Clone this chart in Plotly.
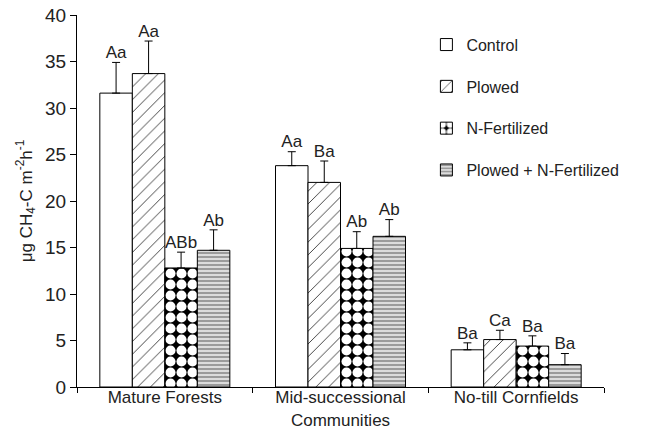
import plotly.graph_objects as go

categories = ["Mature Forests", "Mid-successional<br>Communities", "No-till Cornfields"]
series_names = ["Control", "Plowed", "N-Fertilized", "Plowed + N-Fertilized"]
control = [31.6, 23.8, 4.0]
plowed = [33.7, 22.0, 5.1]
nfert = [12.8, 14.9, 4.4]
plowed_nfert = [14.7, 16.2, 2.4]
control_err = [3.3, 1.5, 0.75]
plowed_err = [3.5, 2.3, 1.0]
nfert_err = [1.7, 1.8, 1.1]
plowed_nfert_err = [2.2, 1.8, 1.2]
control_lbl = ["Aa", "Aa", "Ba"]
plowed_lbl = ["Aa", "Ba", "Ca"]
nfert_lbl = ["ABb", "Ab", "Ba"]
plowed_nfert_lbl = ["Ab", "Ab", "Ba"]
y_ticks = [0, 5, 10, 15, 20, 25, 30, 35, 40]

values = [control, plowed, nfert, plowed_nfert]
errors = [control_err, plowed_err, nfert_err, plowed_nfert_err]
labels = [control_lbl, plowed_lbl, nfert_lbl, plowed_nfert_lbl]
patterns = [
    dict(shape="", fillmode="overlay"),
    dict(shape="/", fgcolor="#333333", bgcolor="white", size=9, solidity=0.1, fillmode="replace"),
    dict(shape=".", fgcolor="white", bgcolor="black", size=11, solidity=0.66, fillmode="replace"),
    dict(shape="-", fgcolor="#8a8a8a", bgcolor="#dcdcdc", size=4, solidity=0.4, fillmode="replace"),
]

FONT = "Liberation Sans, Arial, sans-serif"
INK = "#222222"
fig = go.Figure()
for i, name in enumerate(series_names):
    fig.add_trace(go.Bar(
        x=categories, y=values[i], name=name,
        offsetgroup=str(i), legendgroup=str(i),
        marker=dict(color="white", line=dict(color="black", width=1), pattern=patterns[i]),
        error_y=dict(type="data", array=errors[i], arrayminus=[0] * 3, symmetric=False,
                     color="black", thickness=1, width=4),
    ))
for i, name in enumerate(series_names):
    fig.add_trace(go.Scatter(
        x=categories, y=[v + e for v, e in zip(values[i], errors[i])],
        mode="text", text=labels[i], textposition="top center",
        textfont=dict(size=17, color=INK, family=FONT),
        offsetgroup=str(i), showlegend=False, cliponaxis=False, hoverinfo="skip",
    ))

fig.update_layout(
    width=647, height=431,
    margin=dict(l=77, r=43, t=15, b=44),
    paper_bgcolor="white", plot_bgcolor="white",
    barmode="group", scattermode="group", bargap=0.26, bargroupgap=0,
    font=dict(family=FONT, size=17, color=INK),
    showlegend=True,
    legend=dict(x=0.663, y=0.966, xanchor="left", yanchor="top",
                font=dict(size=16, family=FONT, color=INK),
                tracegroupgap=18, bgcolor="rgba(0,0,0,0)"),
)
fig.update_xaxes(
    showline=True, linecolor="black", linewidth=1, automargin=False,
    ticks="outside", tickson="boundaries", ticklen=5, tickcolor="black",
    ticklabelstandoff=-5,
    tickfont=dict(size=17, family=FONT, color=INK),
    showgrid=False,
)
fig.update_yaxes(
    range=[0, 40], tickvals=y_ticks, showline=True, linecolor="black", linewidth=1,
    automargin=False,
    ticks="outside", ticklen=6, tickcolor="black", showgrid=False, zeroline=False,
    tickfont=dict(size=19, family=FONT, color=INK),
    title=dict(text="μg CH<sub>4</sub>-C m<sup>-2</sup>h<sup>-1</sup>",
               font=dict(size=17, family=FONT, color=INK), standoff=8),
)
fig.write_html("out.html")
